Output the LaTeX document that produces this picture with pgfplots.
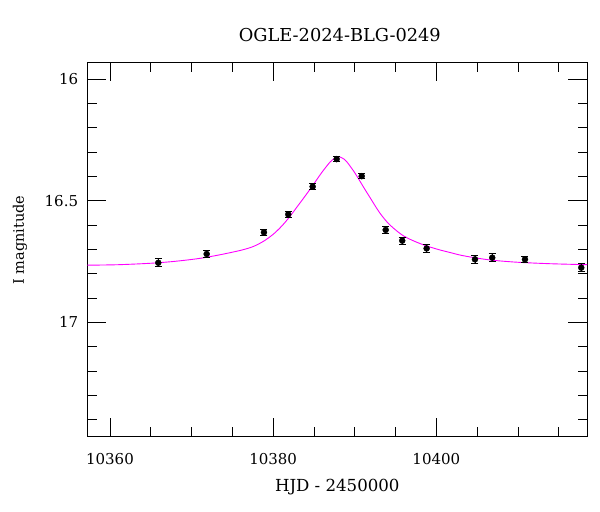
\documentclass[border=0pt]{standalone}
\usepackage{fontspec}
\setmainfont{DejaVu Serif}
\usepackage{pgfplots}
\pgfplotsset{compat=1.18}
\definecolor{modelmag}{RGB}{255,0,255}

% OGLE photometry: HJD-2450000, I mag, error
\pgfplotstableread{
x        y       e
10365.92 16.755  0.016
10371.85 16.719  0.015
10378.87 16.630  0.012
10381.85 16.556  0.013
10384.84 16.442  0.012
10387.78 16.329  0.010
10390.85 16.399  0.011
10393.79 16.620  0.015
10395.82 16.664  0.014
10398.81 16.696  0.015
10404.73 16.741  0.015
10406.85 16.734  0.017
10410.86 16.741  0.013
10417.76 16.775  0.016
}\obsdata

% model curve
\pgfplotstableread{
x        y
10357.22 16.765
10361.0  16.763
10365.0  16.757
10368.0  16.749
10371.0  16.737
10373.5  16.722
10376.0  16.704
10377.5  16.689
10378.8  16.667
10380.0  16.638
10381.0  16.606
10382.0  16.567
10383.0  16.522
10384.0  16.477
10385.0  16.430
10386.0  16.382
10387.0  16.340
10387.5  16.327
10388.0  16.319
10388.5  16.325
10389.0  16.339
10390.0  16.385
10391.0  16.440
10392.0  16.494
10393.0  16.547
10394.0  16.589
10395.0  16.620
10396.0  16.645
10397.0  16.662
10398.0  16.676
10399.0  16.688
10400.4  16.702
10401.7  16.713
10403.0  16.724
10405.0  16.736
10407.0  16.745
10410.0  16.753
10414.0  16.759
10418.5  16.763
}\modeldata

\begin{document}
\begin{tikzpicture}
\path[use as bounding box] (-87.3bp,-75.3bp) rectangle (512.7bp,436.7bp);
\begin{axis}[
  scale only axis,
  width=500bp, height=374.4bp,
  xmin=10357.22, xmax=10418.5,
  ymin=15.931, ymax=17.47,
  y dir=reverse,
  xtick={10360,10380,10400},
  minor xtick={10365,10370,10375,10385,10390,10395,10405,10410,10415},
  ytick={16,16.5,17},
  minor ytick={16.1,16.2,16.3,16.4,16.6,16.7,16.8,16.9,17.1,17.2,17.3,17.4},
  xtick pos=both, ytick pos=both,
  tick align=inside,
  major tick length=19bp,
  minor tick length=9.5bp,
  every tick/.style={black, line width=0.8bp},
  axis line style={black, line width=0.9bp},
  scaled x ticks=false,
  /pgf/number format/1000 sep={},
  /pgf/number format/assume math mode=true,
  tick label style={font=\fontsize{15bp}{18bp}\selectfont},
  xticklabel style={anchor=center, yshift=-22bp},
  yticklabel style={anchor=east, inner sep=0pt, xshift=-9bp},
  title={OGLE-2024-BLG-0249},
  every axis title/.style={at={(axis description cs:0.505,1.073)},
    anchor=center, font=\fontsize{17.8bp}{21bp}\selectfont},
  xlabel={HJD - 2450000},
  every axis x label/.style={at={(axis description cs:0.5,-0.134)},
    anchor=center, font=\fontsize{16.6bp}{19bp}\selectfont},
  ylabel={I magnitude},
  every axis y label/.style={at={(axis description cs:-0.1346,0.525)},
    anchor=center, rotate=90, font=\fontsize{14.5bp}{17bp}\selectfont},
]
\addplot[modelmag, line width=0.9bp, smooth, no markers]
  table[x=x, y=y] {\modeldata};
\addplot[black, only marks, mark=*, mark size=3bp,
  error bars/.cd, y dir=both, y explicit,
  error bar style={black, line width=0.8bp},
  error mark options={black, line width=0.8bp, mark size=3.5bp, rotate=90}]
  table[x=x, y=y, y error=e] {\obsdata};
\end{axis}
\end{tikzpicture}
\end{document}
